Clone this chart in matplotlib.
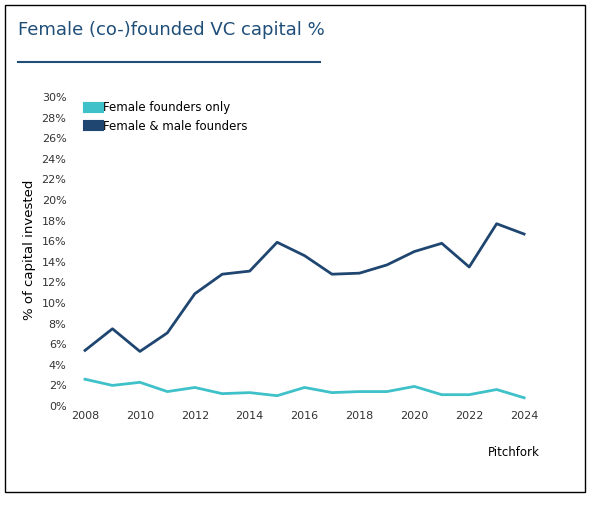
import matplotlib
matplotlib.use("Agg")
import matplotlib.pyplot as plt
from matplotlib.patches import Rectangle
from matplotlib.lines import Line2D

years = list(range(2008, 2025))
female_only = [2.6, 2.0, 2.3, 1.4, 1.8, 1.2, 1.3, 1.0, 1.8, 1.3, 1.4, 1.4, 1.9, 1.1, 1.1, 1.6, 0.8]
female_male = [5.4, 7.5, 5.3, 7.1, 10.9, 12.8, 13.1, 15.9, 14.6, 12.8, 12.9, 13.7, 15.0, 15.8, 13.5, 17.7, 16.7]
yticks = list(range(0, 31, 2))
xticks = list(range(2008, 2025, 2))

W, H = 592, 513
fig = plt.figure(figsize=(W/100, H/100), dpi=100)
fig.patches.append(Rectangle((5/W, 21/H), 580/W, 487/H, transform=fig.transFigure,
                             fill=False, edgecolor="black", lw=1))
fig.text(18/W, 1-30/H, "Female (co-)founded VC capital %", fontsize=13, color="#1f4e79",
         va="center", ha="left")
fig.lines.append(Line2D([18/W, 320/W], [1-62/H, 1-62/H], transform=fig.transFigure,
                        color="#1f4e79", lw=1.5))

ax = fig.add_axes([71.3/W, 1-406/H, 472/W, 312/H])
ax.plot(years, female_only, color="#3fc1c9", lw=2, label="Female founders only")
ax.plot(years, female_male, color="#1f4670", lw=2, label="Female & male founders")
ax.set_ylim(0, 30.3)
ax.set_xlim(2007.5, 2024.7)
ax.set_yticks(yticks)
ax.set_yticklabels([f"{v}%" for v in yticks])
ax.set_xticks(xticks)
for s in ax.spines.values():
    s.set_visible(False)
ax.tick_params(length=0, labelsize=8, colors="#333333")
ax.set_ylabel("% of capital invested", fontsize=9.5)
ax.legend(loc="upper left", bbox_to_anchor=(0.02, 1.0), frameon=False, fontsize=8.5,
          handlelength=0.9, handleheight=0.9, handletextpad=0.4, borderaxespad=0.2)
leg = ax.get_legend()
for h in leg.legend_handles:
    h.set_linewidth(8)
fig.text(540/W, 1-453/H, "Pitchfork", fontsize=8.5, ha="right", va="center")
fig.savefig("out.png", dpi=100, facecolor="white")
